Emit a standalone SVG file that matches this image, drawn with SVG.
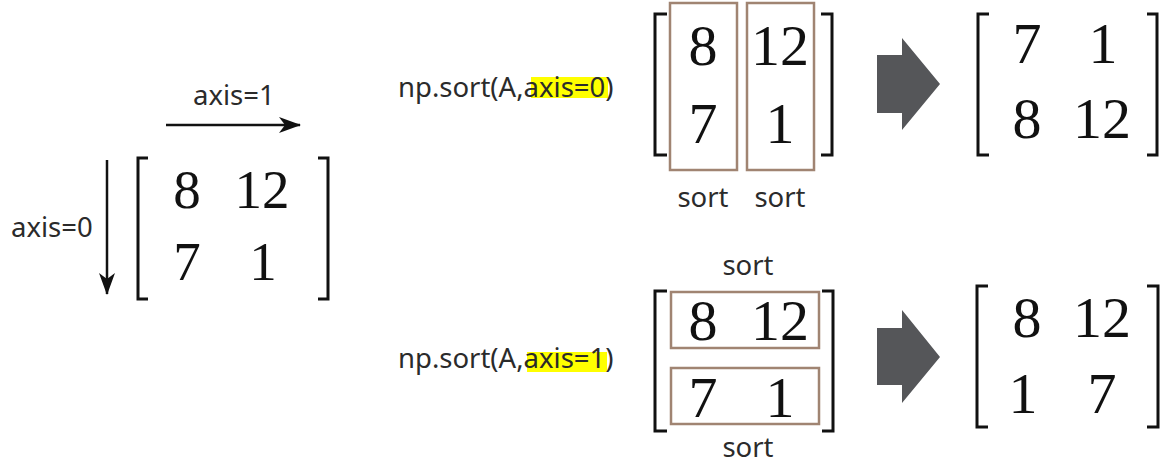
<svg xmlns="http://www.w3.org/2000/svg" width="1166" height="464" viewBox="0 0 1166 464">
<style>
.lbl{font-family:"Noto Sans","Open Sans",sans-serif;font-size:27.5px;fill:#2b2b2b}
.num{font-family:"Liberation Serif","Times New Roman",serif;font-size:58px;fill:#111;text-anchor:middle}
.nums{font-family:"Liberation Serif","Times New Roman",serif;font-size:55px;fill:#111;text-anchor:middle}
.br{fill:none;stroke:#111;stroke-width:3}
.box{fill:none;stroke:#a08472;stroke-width:2.5}
.hl{fill:#ffff00}
.blk{fill:#555659}
.ax{stroke:#111;stroke-width:2.5;fill:none}
</style>
<defs>
<marker id="ah" viewBox="0 0 22 16" refX="21" refY="8" markerWidth="22" markerHeight="16" markerUnits="userSpaceOnUse" orient="auto">
<path d="M0,0 L22,8 L0,16 L6,8 Z" fill="#111"/>
</marker>
</defs>
<rect width="1166" height="464" fill="#fff"/>
<g id="connectors">
<line class="ax" x1="166" y1="125" x2="300" y2="125" marker-end="url(#ah)"/>
<line class="ax" x1="107" y1="160" x2="107" y2="294" marker-end="url(#ah)"/>
<path id="arrow-top" class="blk" d="M877,55 L902,55 L902,38 L940,84 L902,130 L902,113 L877,113 Z"/>
<path id="arrow-bottom" class="blk" d="M877,328 L902,328 L902,310 L940,357 L902,403 L902,385 L877,385 Z"/>
</g>
<g id="source-matrix">
<text class="lbl" x="193" y="105">axis=1</text>
<text class="lbl" x="11" y="237">axis=0</text>
<path class="br" d="M148,158 L138,158 L138,299 L148,299"/>
<path class="br" d="M318,158 L328,158 L328,299 L318,299"/>
<text class="nums" x="187" y="208">8</text>
<text class="nums" x="262" y="208">12</text>
<text class="nums" x="187" y="280">7</text>
<text class="nums" x="263" y="280">1</text>
</g>
<g id="sort-axis0">
<rect class="hl" x="531" y="77" width="77" height="21"/>
<text class="lbl" x="398" y="97">np.sort(A,axis=0)</text>
<path class="br" d="M667,14 L655,14 L655,155 L667,155"/>
<path class="br" d="M821,14 L832,14 L832,155 L821,155"/>
<rect class="box" x="670" y="3" width="67" height="167"/>
<rect class="box" x="747" y="3" width="67" height="167"/>
<text class="num" x="703" y="65">8</text>
<text class="num" x="780" y="65">12</text>
<text class="num" x="703" y="143">7</text>
<text class="num" x="780" y="143">1</text>
<text class="lbl" x="703" y="207" text-anchor="middle">sort</text>
<text class="lbl" x="780" y="207" text-anchor="middle">sort</text>
</g>
<g id="result-axis0">
<path class="br" d="M989,14 L978,14 L978,155 L989,155"/>
<path class="br" d="M1147,14 L1157,14 L1157,155 L1147,155"/>
<text class="num" x="1027" y="63">7</text>
<text class="num" x="1103" y="63">1</text>
<text class="num" x="1027" y="138">8</text>
<text class="num" x="1102" y="138">12</text>
</g>
<g id="sort-axis1">
<rect class="hl" x="527" y="352" width="80" height="20"/>
<text class="lbl" x="398" y="368">np.sort(A,axis=1)</text>
<text class="lbl" x="748" y="275" text-anchor="middle">sort</text>
<path class="br" d="M667,291 L655,291 L655,431 L667,431"/>
<path class="br" d="M822,291 L833,291 L833,431 L822,431"/>
<rect class="box" x="671" y="292" width="148" height="56"/>
<rect class="box" x="671" y="368" width="148" height="56"/>
<text class="num" x="703" y="340">8</text>
<text class="num" x="780" y="340">12</text>
<text class="num" x="703" y="417">7</text>
<text class="num" x="780" y="417">1</text>
<text class="lbl" x="748" y="457" text-anchor="middle">sort</text>
</g>
<g id="result-axis1">
<path class="br" d="M988,286 L977,286 L977,427 L988,427"/>
<path class="br" d="M1147,286 L1158,286 L1158,427 L1147,427"/>
<text class="num" x="1027" y="337">8</text>
<text class="num" x="1102" y="337">12</text>
<text class="num" x="1023" y="413">1</text>
<text class="num" x="1102" y="413">7</text>
</g>
</svg>
